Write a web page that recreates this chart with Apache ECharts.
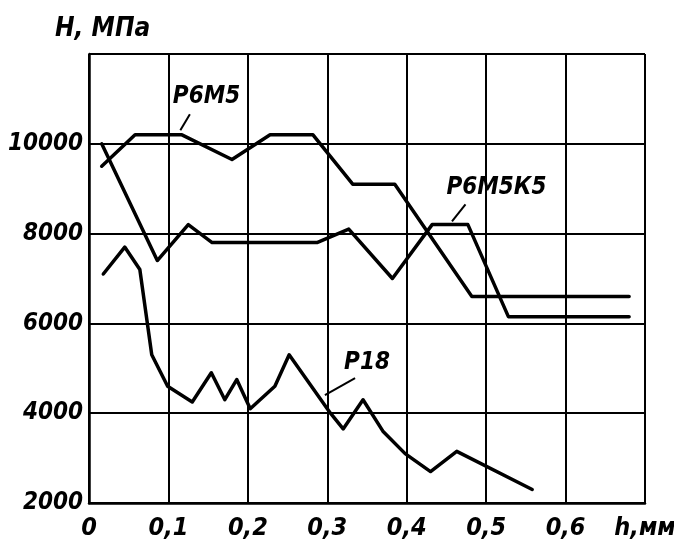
<!DOCTYPE html>
<html>
<head>
<meta charset="utf-8">
<script src="https://cdn.jsdelivr.net/npm/echarts@6/dist/echarts.min.js"></script>
<style>
html,body{margin:0;padding:0;background:#fff;}
#chart{width:674px;height:554px;}
</style>
</head>
<body>
<div id="chart"></div>
<script>
// ---- data ----
var seriesNames = ['Р6М5', 'Р6М5К5', 'Р18'];
var r6m5 = [[0.016,9500],[0.058,10200],[0.117,10200],[0.180,9650],[0.228,10200],[0.282,10200],[0.332,9100],[0.385,9100],[0.482,6600],[0.680,6600]];
var r6m5k5 = [[0.016,10000],[0.086,7400],[0.125,8200],[0.155,7800],[0.287,7800],[0.327,8100],[0.382,7000],[0.432,8200],[0.477,8200],[0.528,6150],[0.680,6150]];
var r18 = [[0.018,7100],[0.045,7700],[0.064,7200],[0.079,5300],[0.099,4600],[0.130,4250],[0.154,4900],[0.171,4300],[0.186,4750],[0.203,4100],[0.234,4600],[0.252,5300],[0.304,4000],[0.320,3650],[0.345,4300],[0.370,3600],[0.398,3100],[0.430,2700],[0.463,3150],[0.558,2300]];
var xTicks = [0, 0.1, 0.2, 0.3, 0.4, 0.5, 0.6, 0.7];
var xTickLabels = ['0', '0,1', '0,2', '0,3', '0,4', '0,5', '0,6', 'h,мм'];
var yTicks = [2000, 4000, 6000, 8000, 10000, 12000];
var yTickLabels = ['2000', '4000', '6000', '8000', '10000', ''];
var yAxisTitle = 'H, МПа';
// annotation labels (data coordinates) and their leader lines
var labelPos = [[0.148, 11050], [0.513, 9020], [0.350, 5130]];
var leaderFrom = [[0.115, 10300], [0.457, 8270], [0.297, 4400]];
var leaderTo = [[0.127, 10660], [0.474, 8650], [0.335, 4780]];

var FONT = "'DejaVu Sans Condensed','DejaVu Sans',sans-serif";
var chart = echarts.init(document.getElementById('chart'), null, {renderer: 'canvas'});

function lineSeries(name, data) {
  return {
    name: name, type: 'line', data: data, showSymbol: false, symbol: 'none',
    lineStyle: {color: '#000', width: 3.5, join: 'round', cap: 'round'},
    z: 5, silent: true
  };
}
var series = [lineSeries(seriesNames[0], r6m5), lineSeries(seriesNames[1], r6m5k5), lineSeries(seriesNames[2], r18)];
for (var i = 0; i < seriesNames.length; i++) {
  series.push({
    type: 'line', data: [leaderFrom[i], leaderTo[i]], symbol: 'none', silent: true,
    lineStyle: {color: '#000', width: 2}, z: 6
  });
}

chart.setOption({
  animation: false,
  backgroundColor: '#fff',
  grid: {left: 89, right: 29, top: 54, bottom: 51, containLabel: false, outerBoundsMode: 'none'},
  xAxis: {
    type: 'value', min: 0, max: 0.7, interval: 0.1,
    axisLine: {show: true, lineStyle: {color: '#000', width: 2.5}},
    axisTick: {show: false},
    splitLine: {show: true, lineStyle: {color: '#000', width: 2}},
    axisLabel: {
      color: '#000', fontFamily: FONT, fontStyle: 'italic', fontWeight: 'bold', fontSize: 25, margin: 13,
      formatter: function (v) {
        for (var k = 0; k < xTicks.length; k++) if (Math.abs(v - xTicks[k]) < 1e-6) return xTickLabels[k];
        return '';
      }
    }
  },
  yAxis: {
    type: 'value', min: 2000, max: 12000, interval: 2000,
    axisLine: {show: true, lineStyle: {color: '#000', width: 2.5}},
    axisTick: {show: false},
    splitLine: {show: true, lineStyle: {color: '#000', width: 2}},
    axisLabel: {
      color: '#000', fontFamily: FONT, fontStyle: 'italic', fontWeight: 'bold', fontSize: 24, margin: 6,
      formatter: function (v) {
        for (var k = 0; k < yTicks.length; k++) if (Math.abs(v - yTicks[k]) < 1e-6) return yTickLabels[k];
        return '';
      }
    }
  },
  series: series
});

var graphics = [{
  type: 'text', left: 55, top: 16,
  style: {text: yAxisTitle, fill: '#000', font: 'italic bold 26px ' + FONT}
}];
for (var j = 0; j < labelPos.length; j++) {
  var p = chart.convertToPixel({gridIndex: 0}, labelPos[j]);
  graphics.push({
    type: 'text', x: p[0], y: p[1], z: 10,
    style: {text: seriesNames[j], fill: '#000', align: 'center', verticalAlign: 'middle',
      font: 'italic bold 24px ' + FONT}
  });
}
chart.setOption({graphic: graphics});
</script>
</body>
</html>
